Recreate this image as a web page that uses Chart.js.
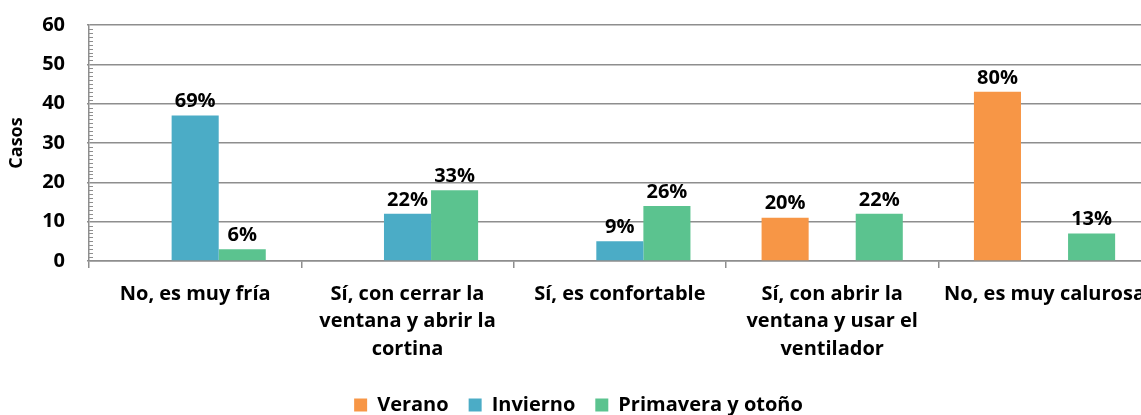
<!DOCTYPE html>
<html>
<head>
<meta charset="utf-8">
<script src="https://cdn.jsdelivr.net/npm/chart.js@4/dist/chart.umd.min.js"></script>
<style>
  body { margin: 0; overflow: hidden; background: #fff; }
  #wrap { width: 1157px; height: 425px; }
</style>
</head>
<body>
<div id="wrap"><canvas id="myChart"></canvas></div>
<script>
// Categorías del eje X
const categories = [
  'No, es muy fría',
  ['Sí, con cerrar la', 'ventana y abrir la', 'cortina'],
  'Sí, es confortable',
  ['Sí, con abrir la', 'ventana y usar el', 'ventilador'],
  'No, es muy calurosa'
];

// Casos por estación
const verano    = [null, null, null, 11, 43];
const invierno  = [37, 12, 5, null, null];
const primavera = [3, 18, 14, 12, 7];

// Porcentajes mostrados sobre las barras
const veranoPct    = ['', '', '', '20%', '80%'];
const inviernoPct  = ['69%', '22%', '9%', '', ''];
const primaveraPct = ['6%', '33%', '26%', '22%', '13%'];

// Eje Y
const yMin = 0, yMax = 60, yStep = 10;

const FONT = '"Open Sans", Lato, sans-serif';
const GRID = '#8e8e8e';

// Etiquetas de porcentaje encima de cada barra
const pctLabels = {
  id: 'pctLabels',
  afterDatasetsDraw(chart) {
    const ctx = chart.ctx;
    ctx.save();
    ctx.font = 'bold 20px ' + FONT;
    ctx.fillStyle = '#000';
    ctx.textAlign = 'center';
    ctx.textBaseline = 'bottom';
    chart.data.datasets.forEach((ds, i) => {
      chart.getDatasetMeta(i).data.forEach((bar, j) => {
        const t = ds.pct[j];
        if (t) ctx.fillText(t, bar.x, bar.y - 4);
      });
    });
    ctx.restore();
  }
};

// Marcas menores del eje Y (cada unidad)
const minorTicks = {
  id: 'minorTicks',
  afterDraw(chart) {
    const y = chart.scales.y;
    const ctx = chart.ctx;
    ctx.save();
    ctx.strokeStyle = GRID;
    ctx.lineWidth = 1;
    for (let v = yMin; v <= yMax; v++) {
      if (v % yStep === 0) continue;
      const py = Math.round(y.getPixelForValue(v)) + 0.5;
      ctx.beginPath();
      ctx.moveTo(y.right, py);
      ctx.lineTo(y.right + 4, py);
      ctx.stroke();
    }
    ctx.restore();
  }
};

const data = {
  labels: categories,
  datasets: [
    { label: 'Verano', data: verano, pct: veranoPct, backgroundColor: '#F79646' },
    { label: 'Invierno', data: invierno, pct: inviernoPct, backgroundColor: '#4BACC6' },
    { label: 'Primavera y otoño', data: primavera, pct: primaveraPct, backgroundColor: '#5BC38F' }
  ]
};

const config = {
  type: 'bar',
  data: data,
  plugins: [pctLabels, minorTicks],
  options: {
    responsive: true,
    maintainAspectRatio: false,
    animation: false,
    layout: { padding: { top: 25, right: 0, bottom: 0, left: 0 } },
    datasets: { bar: { categoryPercentage: 0.665, barPercentage: 1.0 } },
    plugins: {
      legend: {
        position: 'bottom',
        labels: {
          boxWidth: 13, boxHeight: 13, padding: 20,
          color: '#000',
          font: { family: FONT, size: 20, weight: 'bold' }
        }
      },
      tooltip: { enabled: false }
    },
    scales: {
      x: {
        offset: true,
        grid: { offset: true, drawOnChartArea: false, drawTicks: true, tickLength: 7, color: GRID, lineWidth: 1.5 },
        border: { color: GRID, width: 1.5 },
        ticks: {
          color: '#000', padding: 12, maxRotation: 0, autoSkip: false,
          font: { family: FONT, size: 20, weight: 'bold', lineHeight: 1.38 }
        },
        afterFit(scale) { scale.height = 114; }
      },
      y: {
        min: yMin, max: yMax,
        ticks: {
          stepSize: yStep, color: '#000', padding: 22,
          font: { family: FONT, size: 20, weight: 'bold' }
        },
        grid: { color: GRID, lineWidth: 1.5, tickLength: 2 },
        border: { color: GRID, width: 1.5 },
        title: {
          display: true, text: 'Casos', color: '#000',
          padding: { top: 6, bottom: 0 },
          font: { family: FONT, size: 18, weight: 'bold' }
        },
        afterFit(scale) {
          scale.width = 89;
          scale.paddingTop = 0;
          scale.paddingBottom = 0;
        }
      }
    }
  }
};

const myChart = new Chart(document.getElementById('myChart'), config);
</script>
</body>
</html>
